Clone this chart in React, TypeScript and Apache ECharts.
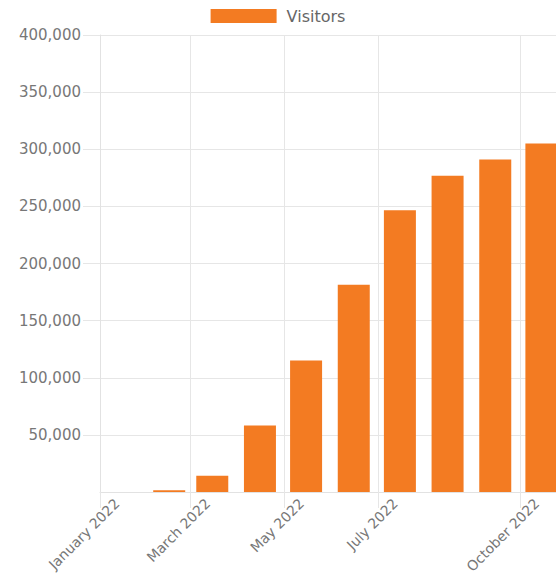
import React, { useEffect, useRef } from 'react';
import * as echarts from 'echarts';

const monthNames = [
  'January', 'February', 'March', 'April', 'May', 'June',
  'July', 'August', 'September', 'October', 'November', 'December',
];
const barDates = [
  '2022-01-15', '2022-02-15', '2022-03-15', '2022-04-15', '2022-05-15',
  '2022-06-15', '2022-07-15', '2022-08-15', '2022-09-15', '2022-10-15',
];
const visitors = [0, 1500, 14300, 58300, 115200, 181400, 246700, 276700, 291000, 305100];
const tickDates = ['2022-01-01', '2022-03-01', '2022-05-01', '2022-07-01', '2022-10-01'];
const axisStart = '2022-01-01';
const axisEnd = '2022-10-24';
const yMin = 0;
const yMax = 400000;
const yStep = 50000;
const LABEL_SHIFT_DAYS = 11;

const DAY = 24 * 3600 * 1000;
const toTime = (s: string) => {
  const [y, m, d] = s.split('-').map(Number);
  return Date.UTC(y, m - 1, d);
};
const t0 = toTime(axisStart);
const toDay = (s: string) => (toTime(s) - t0) / DAY;

export default function App() {
  const ref = useRef<HTMLDivElement>(null);
  useEffect(() => {
    document.body.style.margin = '0';
    const chart = echarts.init(ref.current!, null, { renderer: 'svg' });
    const tickDays = tickDates.map(toDay);
    const font = 'DejaVu Sans';
    chart.setOption({
      animation: false,
      legend: {
        data: ['Visitors'],
        top: 8,
        left: 'center',
        padding: 0,
        icon: 'rect',
        itemWidth: 66,
        itemHeight: 14,
        textStyle: { fontSize: 16, color: '#666', fontFamily: font, padding: [0, 0, 0, 5] },
      },
      grid: {
        left: 100,
        right: 0,
        top: 35,
        bottom: 85,
        containLabel: false,
        outerBoundsMode: 'none',
      },
      xAxis: {
        type: 'value',
        min: 0,
        max: toDay(axisEnd) + 0.5,
        axisLine: { show: true, lineStyle: { color: '#e2e2e2' } },
        axisTick: {
          show: true,
          length: 16,
          customValues: tickDays,
          lineStyle: { color: '#e6e6e6' },
        },
        splitLine: { show: true, lineStyle: { color: '#e6e6e6' } },
        axisLabel: {
          customValues: tickDays.map((t) => t + LABEL_SHIFT_DAYS),
          rotate: 45,
          margin: 9,
          color: '#777',
          fontSize: 14,
          fontFamily: font,
          hideOverlap: false,
          formatter: (v: number) => {
            const d = new Date(t0 + v * DAY);
            return monthNames[d.getUTCMonth()] + ' ' + d.getUTCFullYear();
          },
        },
      },
      yAxis: {
        type: 'value',
        min: yMin,
        max: yMax,
        interval: yStep,
        axisLine: { show: true, lineStyle: { color: '#e2e2e2' } },
        axisTick: { show: true, length: 17, lineStyle: { color: '#e6e6e6' } },
        splitLine: { show: true, lineStyle: { color: '#e6e6e6' } },
        axisLabel: {
          margin: 19,
          color: '#777',
          fontSize: 15,
          fontFamily: font,
          showMinLabel: false,
          formatter: (v: number) => (v === 0 ? '' : v.toLocaleString('en-US')),
        },
      },
      series: [
        {
          name: 'Visitors',
          type: 'bar',
          barWidth: 32,
          itemStyle: { color: '#f37b22' },
          data: barDates.map((d, i) => [toDay(d), visitors[i]]),
        },
      ],
    });
    return () => chart.dispose();
  }, []);
  return <div ref={ref} style={{ width: 556, height: 577 }} />;
}
